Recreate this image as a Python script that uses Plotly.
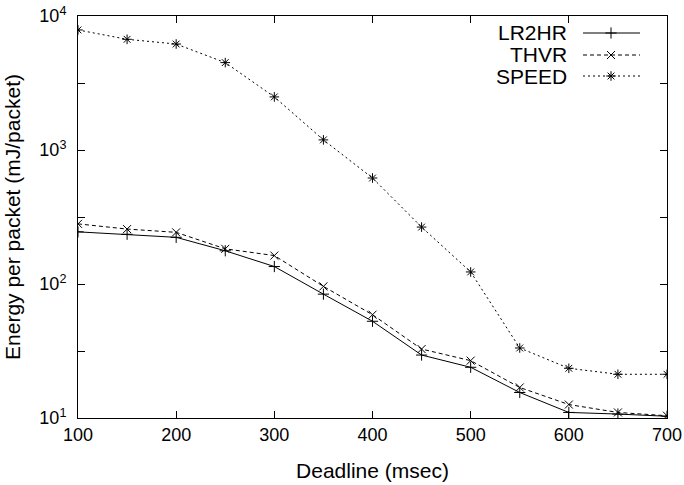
import plotly.graph_objects as go

deadline = [100, 150, 200, 250, 300, 350, 400, 450, 500, 550, 600, 650, 700]
lr2hr = [245, 235, 223, 177, 135, 84, 52.7, 29.5, 23.9, 15.5, 11.0, 10.7, 10.3]
thvr = [281, 257, 243, 183, 163, 96, 59, 32.7, 26.8, 16.9, 12.6, 11.0, 10.4]
speed = [7870, 6700, 6180, 4490, 2490, 1190, 618, 266, 123, 33.3, 23.5, 21.2, 21.2]

series_names = ["LR2HR", "THVR", "SPEED"]
series_vals = [lr2hr, thvr, speed]
dashes = ["solid", "4px,3px", "2px,3px"]
symbols = ["cross-thin", "x-thin", "asterisk-open"]

x_ticks = [100, 200, 300, 400, 500, 600, 700]
y_major = [10, 100, 1000, 10000]
y_major_text = ["10<sup>1</sup>", "10<sup>2</sup>", "10<sup>3</sup>", "10<sup>4</sup>"]
y_half = [31.6228, 316.228, 3162.28]

FONT = "Liberation Sans, Arial, sans-serif"

fig = go.Figure()
for name, vals, dsh, sym in zip(series_names, series_vals, dashes, symbols):
    fig.add_trace(go.Scatter(
        x=deadline, y=vals, mode="lines+markers", name=name,
        line=dict(color="black", width=1, dash=dsh),
        marker=dict(symbol=sym, size=8, color="black",
                    line=dict(color="black", width=1)),
        showlegend=False,
    ))

# legend (text on the left, sample on the right, as in the reference)
L, R, T, B = 78, 667, 16, 418
def fx(px):
    return (px - L) / (R - L)
def fy(py):
    return (B - py) / (B - T)

leg_y = [33, 55, 76]
for name, dsh, sym, py in zip(series_names, dashes, symbols, leg_y):
    fig.add_trace(go.Scatter(
        x=[fx(583), fx(640)], y=[fy(py), fy(py)], mode="lines",
        line=dict(color="black", width=1, dash=dsh),
        xaxis="x2", yaxis="y2", showlegend=False, hoverinfo="skip",
    ))
    fig.add_trace(go.Scatter(
        x=[fx(611)], y=[fy(py)], mode="markers",
        marker=dict(symbol=sym, size=8, color="black",
                    line=dict(color="black", width=1)),
        xaxis="x2", yaxis="y2", showlegend=False, hoverinfo="skip",
    ))
    fig.add_annotation(
        x=fx(569), y=fy(py), xref="paper", yref="paper",
        text=name, showarrow=False, xanchor="right", yanchor="middle",
        font=dict(family=FONT, size=21, color="black"),
    )

fig.update_layout(
    width=684, height=485,
    margin=dict(l=L, r=684 - R, t=T, b=485 - B),
    paper_bgcolor="white", plot_bgcolor="white",
    font=dict(family=FONT, size=18, color="black"),
    xaxis=dict(
        range=[100, 700], tickmode="array", tickvals=x_ticks,
        ticks="inside", ticklen=7, tickwidth=1, tickcolor="black",
        showline=True, linecolor="black", linewidth=1, mirror="ticks",
        showgrid=False, zeroline=False, automargin=False,
        title=dict(text="Deadline (msec)", font=dict(size=21), standoff=19),
        tickfont=dict(size=18),
    ),
    yaxis=dict(
        type="log", range=[1, 4], tickmode="array",
        tickvals=y_major + y_half,
        ticktext=y_major_text + ["", "", ""],
        ticks="inside", ticklen=7, tickwidth=1, tickcolor="black",
        showline=True, linecolor="black", linewidth=1, mirror="ticks",
        showgrid=False, zeroline=False, automargin=False,
        ticklabelstandoff=7,
        title=dict(text="Energy per packet (mJ/packet)", font=dict(size=21), standoff=13),
        tickfont=dict(size=18),
    ),
    xaxis2=dict(range=[0, 1], overlaying="x", visible=False, fixedrange=True),
    yaxis2=dict(range=[0, 1], overlaying="y", visible=False, fixedrange=True, anchor="x2"),
)

fig.write_html("out.html")
